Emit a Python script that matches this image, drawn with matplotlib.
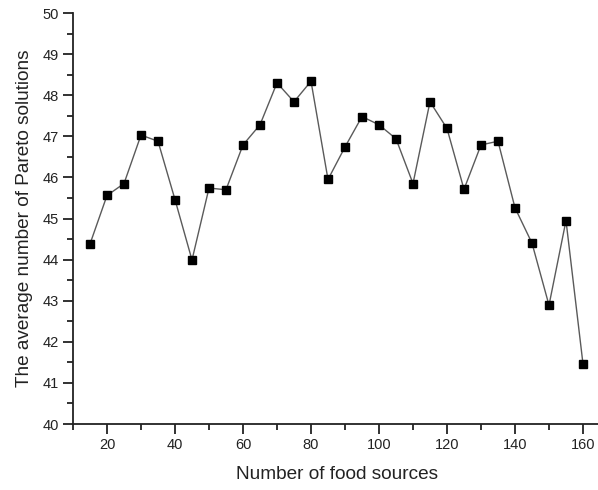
import matplotlib
matplotlib.use("Agg")
import matplotlib.pyplot as plt
from matplotlib.ticker import MultipleLocator

plt.rcParams['font.family'] = ['Liberation Sans', 'DejaVu Sans']

food_sources = [15, 20, 25, 30, 35, 40, 45, 50, 55, 60, 65, 70, 75, 80, 85,
                90, 95, 100, 105, 110, 115, 120, 125, 130, 135, 140, 145, 150, 155, 160]
avg_pareto = [44.38, 45.56, 45.85, 47.03, 46.88, 45.46, 43.99, 45.74, 45.70, 46.79,
              47.28, 48.30, 47.84, 48.34, 45.95, 46.74, 47.48, 47.28, 46.94, 45.85,
              47.84, 47.19, 45.71, 46.79, 46.88, 45.26, 44.40, 42.89, 44.95, 41.46]

fig = plt.figure(figsize=(5.98, 4.90), dpi=100)
ax = fig.add_axes([73 / 598, 66 / 490, 527 / 598, 411 / 490])

ax.plot(food_sources, avg_pareto, color='#5a5a5a', linewidth=1.0,
        marker='s', markersize=6, markerfacecolor='black',
        markeredgecolor='black', zorder=3)

ax.set_xlim(10, 165)
ax.set_ylim(40, 50)
ax.xaxis.set_major_locator(MultipleLocator(20))
ax.xaxis.set_minor_locator(MultipleLocator(10))
ax.yaxis.set_major_locator(MultipleLocator(1))
ax.yaxis.set_minor_locator(MultipleLocator(0.5))

for side in ('top', 'right'):
    ax.spines[side].set_visible(False)
for side in ('left', 'bottom'):
    ax.spines[side].set_linewidth(1.3)
    ax.spines[side].set_color('#222222')

ax.tick_params(which='major', direction='out', length=7, width=1.3,
               colors='#222222', labelsize=10.5, pad=3)
ax.tick_params(which='minor', direction='out', length=4, width=1.3, colors='#222222')
ax.tick_params(axis='both', labelcolor='#222222')

ax.set_xlabel('Number of food sources', fontsize=13.7, color='#222222', labelpad=10)
ax.set_ylabel('The average number of Pareto solutions', fontsize=13.7,
              color='#222222', labelpad=7)

fig.savefig('out.png', dpi=100)
